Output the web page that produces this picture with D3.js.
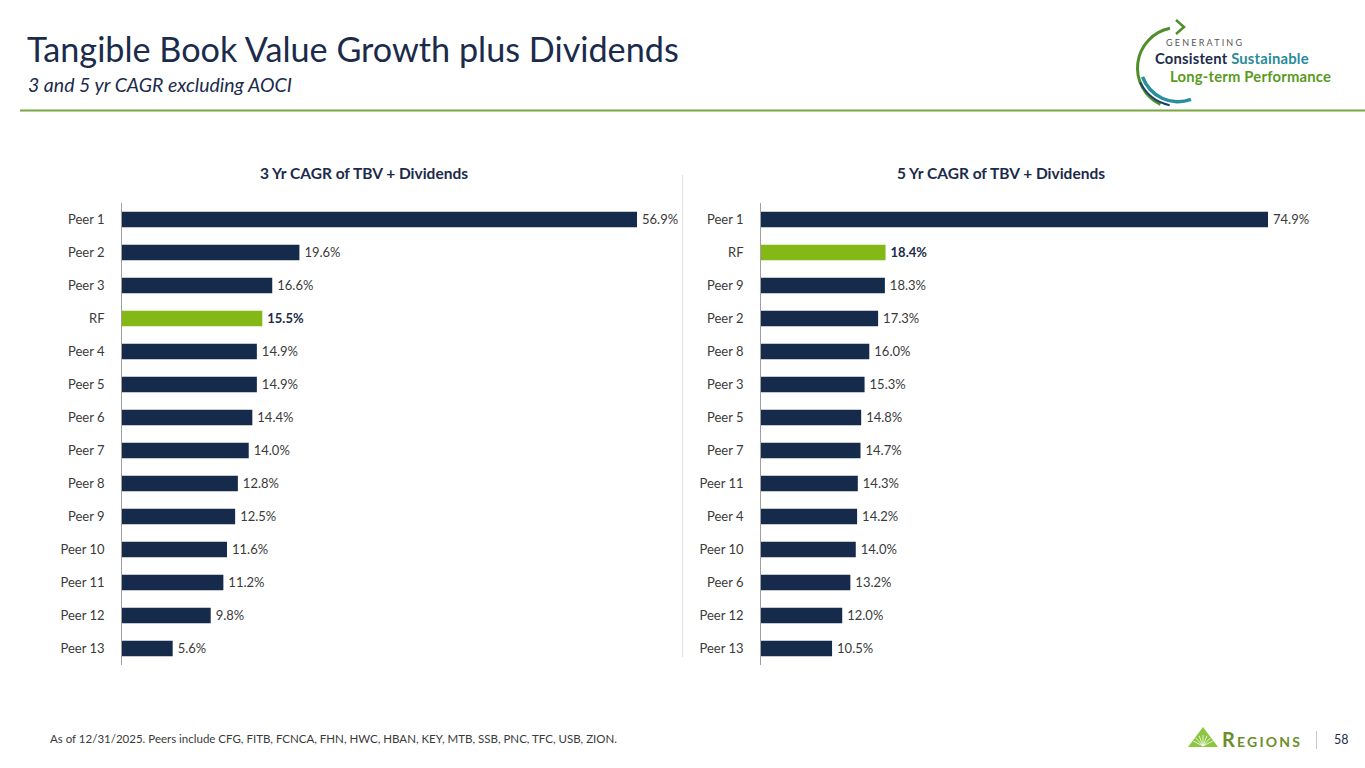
<!DOCTYPE html>
<html>
<head>
<meta charset="utf-8">
<script src="https://cdn.jsdelivr.net/npm/d3@7"></script>
<style>
  body { margin: 0; background: #fff; }
  svg text { font-family: Lato, "Noto Sans", sans-serif; }
</style>
</head>
<body>
<div id="slide"></div>
<script>
// chart data
var cats3 = ["Peer 1", "Peer 2", "Peer 3", "RF", "Peer 4", "Peer 5", "Peer 6", "Peer 7", "Peer 8", "Peer 9", "Peer 10", "Peer 11", "Peer 12", "Peer 13"];
var vals3 = [56.9, 19.6, 16.6, 15.5, 14.9, 14.9, 14.4, 14.0, 12.8, 12.5, 11.6, 11.2, 9.8, 5.6];
var cats5 = ["Peer 1", "RF", "Peer 9", "Peer 2", "Peer 8", "Peer 3", "Peer 5", "Peer 7", "Peer 11", "Peer 4", "Peer 10", "Peer 6", "Peer 12", "Peer 13"];
var vals5 = [74.9, 18.4, 18.3, 17.3, 16.0, 15.3, 14.8, 14.7, 14.3, 14.2, 14.0, 13.2, 12.0, 10.5];
var highlight = "RF";

var width = 1365, height = 768;
var navy = "#162a4c", green = "#84b817", textColor = "#3a3a3a";

var svg = d3.select("#slide").append("svg")
    .attr("width", width)
    .attr("height", height);

// header
svg.append("text")
    .attr("x", 27).attr("y", 62)
    .attr("font-size", 34.2)
    .attr("fill", "#1b2b4b")
    .text("Tangible Book Value Growth plus Dividends");

svg.append("text")
    .attr("x", 28).attr("y", 92)
    .attr("font-size", 19.5)
    .attr("font-style", "italic")
    .attr("fill", "#1b2b4b")
    .text("3 and 5 yr CAGR excluding AOCI");

svg.append("line")
    .attr("x1", 20).attr("x2", width)
    .attr("y1", 110.5).attr("y2", 110.5)
    .attr("stroke", "#79a640")
    .attr("stroke-width", 2);

// top right badge
var badge = svg.append("g");
var arc = d3.arc();
badge.append("path")
    .attr("transform", "translate(1178,68)")
    .attr("d", arc({innerRadius: 39, outerRadius: 42, startAngle: -0.2, endAngle: -Math.PI + 0.45}))
    .attr("fill", "#4f8f2a");
badge.append("path")
    .attr("d", "M1176,20 L1184,27 L1176,34")
    .attr("fill", "none")
    .attr("stroke", "#4f8f2a")
    .attr("stroke-width", 2.5);
badge.append("path")
    .attr("transform", "translate(1178,64)")
    .attr("d", arc({innerRadius: 36, outerRadius: 39.5, startAngle: -Math.PI / 2 - 0.35, endAngle: -Math.PI - 0.35}))
    .attr("fill", "#2a8f9c");
badge.append("path")
    .attr("transform", "translate(1178,64)")
    .attr("d", arc({innerRadius: 41, outerRadius: 43, startAngle: -Math.PI / 2 - 0.45, endAngle: -Math.PI + 0.2}))
    .attr("fill", "#1f3f6a");
badge.append("text")
    .attr("x", 1166).attr("y", 46)
    .attr("font-size", 9)
    .attr("letter-spacing", 2.2)
    .attr("fill", "#555")
    .text("GENERATING");
badge.append("text")
    .attr("x", 1155).attr("y", 64)
    .attr("font-size", 14.8)
    .attr("font-weight", 700)
    .attr("letter-spacing", 0.2)
    .attr("fill", "#1b2b4b")
    .text("Consistent")
    .append("tspan")
    .attr("fill", "#2a8a9a")
    .text(" Sustainable");
badge.append("text")
    .attr("x", 1170).attr("y", 82)
    .attr("font-size", 14.8)
    .attr("font-weight", 700)
    .attr("letter-spacing", 0.2)
    .attr("fill", "#5a9a22")
    .text("Long-term Performance");

// draw one horizontal bar chart
function barChart(cats, vals, opts) {
    var g = svg.append("g");

    var y = d3.scaleBand()
        .domain(cats)
        .range([203, 665])
        .paddingInner(0.53)
        .paddingOuter(0.265);

    var x = d3.scaleLinear()
        .domain([0, opts.max])
        .range([opts.left, opts.right]);

    g.append("text")
        .attr("x", opts.titleX).attr("y", 179)
        .attr("text-anchor", "middle")
        .attr("font-size", 15.5)
        .attr("font-weight", 700)
        .attr("fill", "#1b2b4b")
        .text(opts.title);

    g.selectAll("rect")
        .data(cats)
        .join("rect")
        .attr("x", x(0))
        .attr("y", d => y(d))
        .attr("width", (d, i) => x(vals[i]) - x(0))
        .attr("height", y.bandwidth())
        .attr("fill", d => d === highlight ? green : navy);

    g.selectAll("text.val")
        .data(cats)
        .join("text")
        .attr("class", "val")
        .attr("x", (d, i) => x(vals[i]) + 5)
        .attr("y", d => y(d) + y.bandwidth() / 2)
        .attr("dy", "0.35em")
        .attr("font-size", 13)
        .attr("font-weight", d => d === highlight ? 700 : 400)
        .attr("fill", d => d === highlight ? "#1b2b4b" : textColor)
        .text((d, i) => vals[i].toFixed(1) + "%");

    // category axis
    var axis = g.append("g")
        .attr("transform", "translate(" + (x(0) - 0.5) + ",0)")
        .call(d3.axisLeft(y).tickSize(0).tickPadding(17));
    axis.select(".domain").attr("stroke", "#a0a0a0").attr("d", "M0,203V665");
    axis.selectAll("text")
        .attr("font-size", 13)
        .attr("font-family", "Lato, 'Noto Sans', sans-serif")
        .attr("fill", textColor);
}

barChart(cats3, vals3, {title: "3 Yr CAGR of TBV + Dividends", titleX: 364, max: 56.9, left: 122, right: 637});
barChart(cats5, vals5, {title: "5 Yr CAGR of TBV + Dividends", titleX: 1001, max: 74.9, left: 761, right: 1268});

// divider between the charts
svg.append("line")
    .attr("x1", 682.5).attr("x2", 682.5)
    .attr("y1", 175).attr("y2", 657)
    .attr("stroke", "#e2e2e2");

// footer
svg.append("text")
    .attr("x", 50).attr("y", 743)
    .attr("font-size", 11.5)
    .attr("fill", textColor)
    .text("As of 12/31/2025. Peers include CFG, FITB, FCNCA, FHN, HWC, HBAN, KEY, MTB, SSB, PNC, TFC, USB, ZION.");

// Regions logo
var logo = svg.append("g").attr("transform", "translate(1188,747)");
logo.append("path")
    .attr("d", "M0,0 L15,-20 L30,0 Z")
    .attr("fill", "#8cc63e");
d3.range(7).forEach(function(i) {
    var a = Math.PI * (0.15 + i * 0.7 / 6);
    logo.append("line")
        .attr("x1", 15).attr("y1", -1)
        .attr("x2", 15 - Math.cos(a) * 11).attr("y2", -1 - Math.sin(a) * 11)
        .attr("stroke", "#ffffff").attr("stroke-width", 0.8);
});
logo.append("text")
    .attr("x", 34).attr("y", 0)
    .attr("font-family", "'Liberation Serif', serif")
    .attr("font-size", 20)
    .attr("font-variant", "small-caps")
    .attr("font-weight", 700)
    .attr("letter-spacing", 2.2)
    .attr("fill", "#6c8e2a")
    .text("Regions");

svg.append("line")
    .attr("x1", 1316.5).attr("x2", 1316.5)
    .attr("y1", 731).attr("y2", 749)
    .attr("stroke", "#c8c8c8");

svg.append("text")
    .attr("x", 1334).attr("y", 744)
    .attr("font-size", 12.5)
    .attr("fill", "#1b2b4b")
    .text("58");
</script>
</body>
</html>
